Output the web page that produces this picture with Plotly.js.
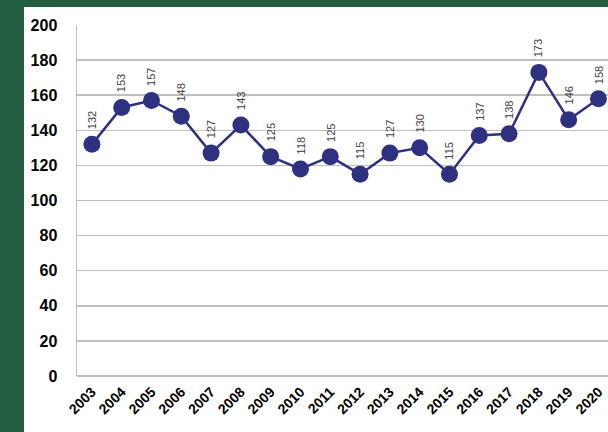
<!DOCTYPE html>
<html><head><meta charset="utf-8">
<script src="https://cdn.plot.ly/plotly-3.0.1.min.js"></script>
<style>html,body{margin:0;padding:0;background:#215d3e;}#chart{width:608px;height:432px;}</style>
</head><body><div id="chart"></div>
<script>
const years = ['2003','2004','2005','2006','2007','2008','2009','2010','2011','2012','2013','2014','2015','2016','2017','2018','2019','2020'];
const values = [132,153,157,148,127,143,125,118,125,115,127,130,115,137,138,173,146,158];
const yTicks = [0,20,40,60,80,100,120,140,160,180,200];

const lineColor = '#2e3180';
const annotations = years.map((y,i)=>({
  x: i, y: values[i], xref:'x', yref:'y', text: String(values[i]),
  showarrow:false, textangle:-90, xanchor:'center', yanchor:'bottom', yshift:13,
  font:{family:'Liberation Sans, Arial, sans-serif', size:11, color:'#404040'}
}));

const trace = {
  x: years, y: values, type:'scatter', mode:'lines+markers',
  line:{color:lineColor, width:2.5},
  marker:{color:lineColor, size:17},
  cliponaxis:false, hoverinfo:'skip'
};

const layout = {
  width:608, height:432,
  margin:{l:77, r:0, t:25, b:56},
  paper_bgcolor:'#215d3e', plot_bgcolor:'#ffffff',
  showlegend:false,
  shapes:[{type:'rect', xref:'paper', yref:'paper', x0:-0.0998, x1:1.01, y0:-0.2, y1:1.0513,
    fillcolor:'#ffffff', line:{width:0}, layer:'below'}],
  xaxis:{type:'category', range:[-0.5,17.32], showgrid:false, showline:false, zeroline:false,
    tickangle:-45, ticks:'', ticklabelstandoff:4,
    tickfont:{family:'Liberation Sans, Arial, sans-serif', size:14, color:'#000000', weight:'bold'}},
  yaxis:{range:[0,200], tickvals:yTicks, showgrid:true, gridcolor:'#bfbfbf', gridwidth:1.5,
    zeroline:true, zerolinecolor:'#bfbfbf', zerolinewidth:1.5,
    showline:true, linecolor:'#bfbfbf', linewidth:1.5, ticks:'', ticklabelstandoff:15,
    tickfont:{family:'Liberation Sans, Arial, sans-serif', size:16, color:'#000000', weight:'bold'}},
  annotations: annotations
};
Plotly.newPlot('chart',[trace],layout,{displayModeBar:false, staticPlot:true});
</script></body></html>
